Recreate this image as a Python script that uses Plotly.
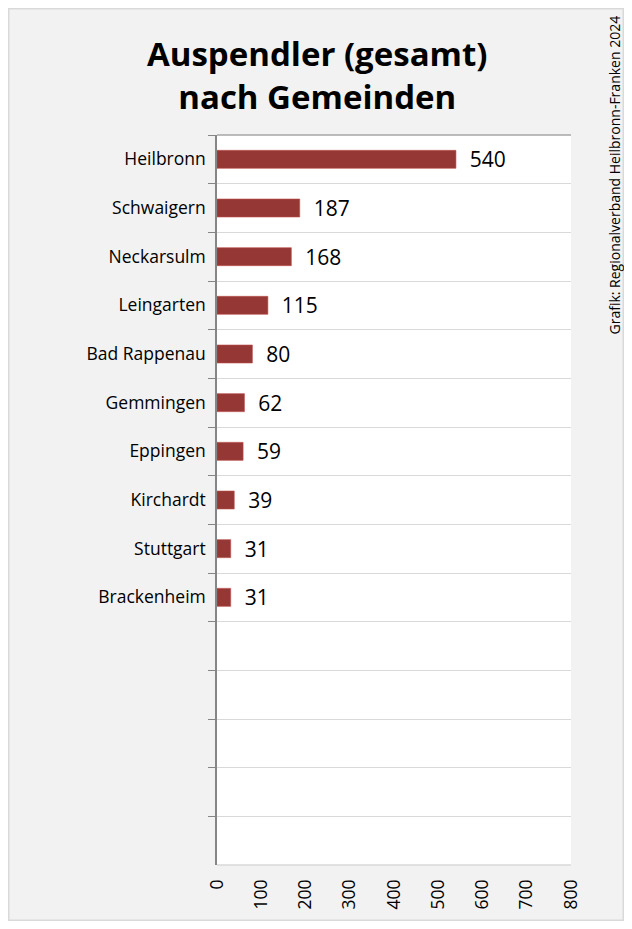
import plotly.graph_objects as go

categories = ["Heilbronn", "Schwaigern", "Neckarsulm", "Leingarten", "Bad Rappenau",
              "Gemmingen", "Eppingen", "Kirchardt", "Stuttgart", "Brackenheim"]
values = [540, 187, 168, 115, 80, 62, 59, 39, 31, 31]
empty_slots = [" " * (i + 1) for i in range(5)]
x_ticks = [0, 100, 200, 300, 400, 500, 600, 700, 800]

# page body has an 8px margin; figure sized to fit the window
OFF = 8
W, H = 632 - 2 * OFF, 929 - 2 * OFF
L = 217 - OFF
T = 135 - OFF
R = W - (571 - OFF)
B = H - (865 - OFF)
pw, ph = W - L - R, H - T - B


def px(xr):
    return (xr - OFF - L) / pw


def py(yr):
    return (H - (yr - OFF) - B) / ph


fig = go.Figure(go.Bar(
    x=values, y=categories, orientation="h",
    marker=dict(color="#953735", line=dict(color="#c0504d", width=0.6)),
    text=["  " + str(v) for v in values], textposition="outside",
    textfont=dict(family="Open Sans", size=21, color="#000000"),
    constraintext="none",
    cliponaxis=False, width=0.37,
))

fig.update_layout(
    width=W, height=H,
    margin=dict(l=L, r=R, t=T, b=B),
    paper_bgcolor="#f2f2f2", plot_bgcolor="#ffffff",
    showlegend=False,
    font=dict(family="Open Sans", color="#000000"),
    xaxis=dict(range=[0, 800], tickvals=x_ticks, tickangle=-90, showgrid=False,
               zeroline=False, showline=False, ticks="", ticklabelstandoff=10,
               tickfont=dict(size=17.5, color="#000000"), fixedrange=True),
    yaxis=dict(type="category", categoryorder="array",
               categoryarray=categories + empty_slots,
               range=[14.5, -0.5], tickson="boundaries",
               showgrid=True, gridcolor="#d9d9d9", gridwidth=1,
               showline=True, linecolor="#868686", linewidth=1.5,
               ticks="outside", ticklen=7, tickcolor="#868686", ticklabelstandoff=6,
               tickfont=dict(size=17.5, color="#000000")),
    annotations=[
        dict(text="<b>Auspendler (gesamt)<br>nach Gemeinden</b>", xref="paper", yref="paper",
             x=px(317), y=py(29), xanchor="center", yanchor="top",
             showarrow=False, font=dict(family="Open Sans", size=33, color="#000000"),
             align="center"),
        dict(text="Grafik: Regionalverband Heilbronn-Franken 2024", xref="paper", yref="paper",
             x=px(614), y=py(14), xanchor="center", yanchor="top",
             textangle=-90, showarrow=False,
             font=dict(family="Open Sans", size=14, color="#000000")),
    ],
    shapes=[
        dict(type="rect", xref="paper", yref="paper",
             x0=(-L + 0.75) / pw, x1=(pw + R - 0.75) / pw,
             y0=(-B + 0.75) / ph, y1=(ph + T - 0.75) / ph,
             line=dict(color="#d9d9d9", width=1.5), fillcolor="rgba(0,0,0,0)", layer="below"),
        dict(type="line", xref="paper", yref="paper", x0=0, x1=1, y0=1, y1=1,
             line=dict(color="#a6a6a6", width=1.5)),
        dict(type="line", xref="paper", yref="paper", x0=0, x1=1, y0=0, y1=0,
             line=dict(color="#d9d9d9", width=1.5)),
    ],
)

fig.write_html("out.html")
